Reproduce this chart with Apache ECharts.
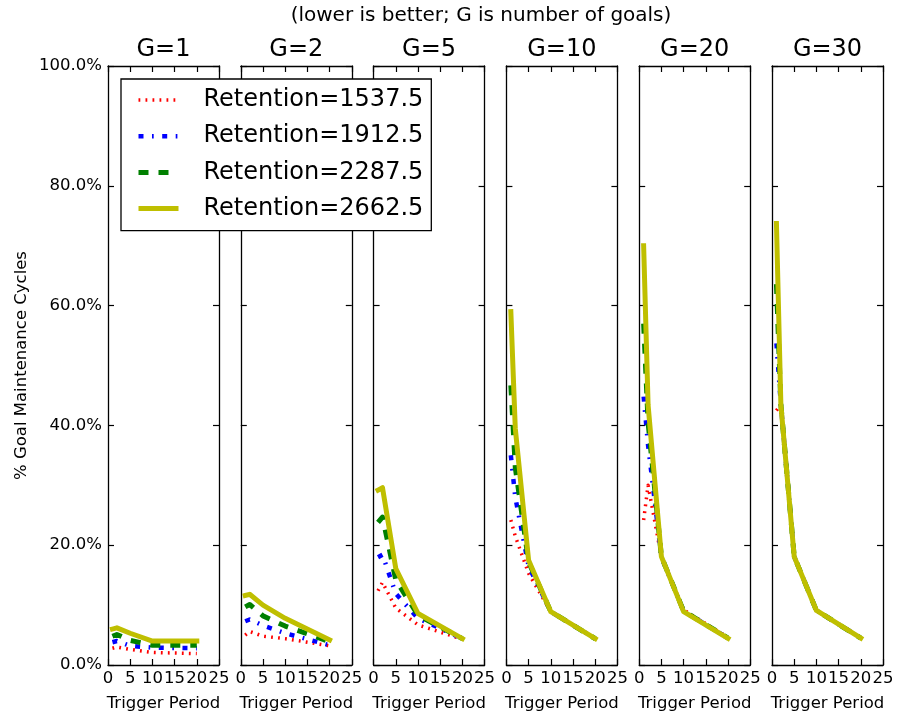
<!DOCTYPE html>
<html><head><meta charset="utf-8">
<script src="https://cdn.jsdelivr.net/npm/echarts@6/dist/echarts.min.js"></script>
<style>html,body{margin:0;padding:0;background:#fff}#c{width:898px;height:719px}</style>
</head><body><div id="c"></div>
<script>
// ---- data ----
const triggerPeriods = [1, 2, 5, 10, 20];
const goalCounts = ['G=1', 'G=2', 'G=5', 'G=10', 'G=20', 'G=30'];
const retentionLabels = ['Retention=1537.5', 'Retention=1912.5', 'Retention=2287.5', 'Retention=2662.5'];
// values in percent, one row per panel (G=1 ... G=30), one value per trigger period
const ret1537 = [
  [2.8, 3.0, 2.6, 2.1, 1.9],
  [5.0, 5.6, 4.8, 4.4, 3.2],
  [12.4, 13.8, 9.5, 6.7, 4.3],
  [24.2, 21.5, 15.3, 8.9, 4.4],
  [24.2, 30.0, 18.0, 9.2, 4.6],
  [42.5, 43.5, 18.1, 9.1, 4.5]
];
const ret1912 = [
  [3.8, 4.0, 3.2, 2.9, 2.8],
  [7.3, 7.6, 6.6, 5.3, 3.3],
  [18.0, 18.4, 11.9, 7.8, 4.4],
  [35.0, 28.0, 16.5, 8.9, 4.4],
  [44.8, 36.7, 18.0, 9.0, 4.5],
  [53.7, 43.5, 18.1, 9.1, 4.5]
];
const ret2287 = [
  [4.8, 5.1, 4.1, 3.3, 3.3],
  [9.7, 10.1, 8.2, 6.5, 3.9],
  [23.8, 24.7, 14.2, 8.3, 4.4],
  [46.7, 33.0, 17.2, 8.9, 4.4],
  [57.0, 40.5, 18.1, 9.0, 4.5],
  [63.6, 43.5, 18.1, 9.1, 4.5]
];
const ret2662 = [
  [6.0, 6.2, 5.3, 4.0, 4.0],
  [11.6, 11.8, 10.0, 7.8, 4.2],
  [29.2, 29.6, 16.1, 8.6, 4.4],
  [59.0, 39.5, 17.5, 8.9, 4.4],
  [70.0, 43.4, 18.1, 8.9, 4.45],
  [73.7, 43.4, 18.1, 9.1, 4.5]
];
const yTickLabels = ['0.0%', '20.0%', '40.0%', '60.0%', '80.0%', '100.0%'];
const xTickLabels = ['0', '5', '10', '15', '20', '25'];
const suptitleText = '(lower is better; G is number of goals)';
const xAxisName = 'Trigger Period';
const yAxisName = '% Goal Maintenance Cycles';

// ---- styling ----
const FONT = 'DejaVu Sans';
const retentionData = [ret1537, ret1912, ret2287, ret2662];
const lineStyles = [
  {color: '#ff0000', width: 3.5, type: [1.8, 5.2]},
  {color: '#0000ff', width: 4.5, type: [5, 8.5, 1.7, 8.5]},
  {color: '#008000', width: 5, type: [10, 10]},
  {color: '#bfbf00', width: 5, type: 'solid', cap: 'square'}
];
const GRID_TOP = 66, GRID_H = 599, GRID_W = 111;
const gridLeft = i => 108 + i * 132.8;

const grids = [], xAxes = [], yAxes = [], titles = [], series = [];
const axisLine = {show: true, onZero: false, lineStyle: {color: '#000', width: 1.3}};
const axisTick = {show: true, inside: true, length: 6, lineStyle: {color: '#000', width: 1.2}};

titles.push({
  text: suptitleText, left: 481, top: 5, textAlign: 'center', padding: 0,
  textStyle: {fontFamily: FONT, fontSize: 20, fontWeight: 'normal', color: '#000', lineHeight: 22}
});

goalCounts.forEach((g, i) => {
  const L = gridLeft(i);
  grids.push({left: L, top: GRID_TOP, width: GRID_W, height: GRID_H, containLabel: false});
  titles.push({
    text: g, left: L + GRID_W / 2, top: 37, textAlign: 'center', padding: 0,
    textStyle: {fontFamily: FONT, fontSize: 24, fontWeight: 'normal', color: '#000', lineHeight: 26}
  });
  xAxes.push({
    type: 'value', gridIndex: i, position: 'bottom', min: 0, max: 25, interval: 5,
    axisLine, axisTick, splitLine: {show: false},
    axisLabel: {show: true, margin: 5, color: '#000', fontFamily: FONT, fontSize: 16.5,
      formatter: v => xTickLabels[Math.round(v / 5)]},
    name: xAxisName, nameLocation: 'middle', nameGap: 30,
    nameTextStyle: {fontFamily: FONT, fontSize: 16.5, color: '#000'}
  });
  xAxes.push({
    type: 'value', gridIndex: i, position: 'top', min: 0, max: 25, interval: 5,
    axisLine, axisTick, splitLine: {show: false}, axisLabel: {show: false}
  });
  const yLeft = {
    type: 'value', gridIndex: i, position: 'left', min: 0, max: 100, interval: 20,
    axisLine, axisTick, splitLine: {show: false},
    axisLabel: {show: i === 0, margin: 6, color: '#000', fontFamily: FONT, fontSize: 16.5,
      formatter: v => yTickLabels[Math.round(v / 20)]}
  };
  if (i === 0) {
    yLeft.name = yAxisName;
    yLeft.nameLocation = 'middle';
    yLeft.nameGap = 78;
    yLeft.nameTextStyle = {fontFamily: FONT, fontSize: 16.5, color: '#000'};
  }
  yAxes.push(yLeft);
  yAxes.push({
    type: 'value', gridIndex: i, position: 'right', min: 0, max: 100, interval: 20,
    axisLine, axisTick, splitLine: {show: false}, axisLabel: {show: false}
  });
  retentionData.forEach((arr, r) => {
    series.push({
      type: 'line', name: retentionLabels[r],
      xAxisIndex: 2 * i, yAxisIndex: 2 * i,
      data: triggerPeriods.map((x, k) => [x, arr[i][k]]),
      symbol: 'none', showSymbol: false, smooth: false,
      lineStyle: Object.assign({join: 'round'}, lineStyles[r]),
      itemStyle: {color: lineStyles[r].color},
      emphasis: {disabled: true},
      z: 2 + r
    });
  });
});

const chart = echarts.init(document.getElementById('c'), null, {renderer: 'canvas'});
chart.setOption({
  animation: false,
  backgroundColor: '#fff',
  title: titles,
  grid: grids,
  xAxis: xAxes,
  yAxis: yAxes,
  legend: {
    data: retentionLabels,
    orient: 'vertical', left: 121, top: 79,
    padding: [7, 8, 8, 15], itemGap: 8.2, itemWidth: 40, itemHeight: 14,
    backgroundColor: '#fff', borderColor: '#000', borderWidth: 1.3, borderRadius: 0,
    selectedMode: false,
    itemStyle: {color: 'rgba(0,0,0,0)', borderWidth: 0, opacity: 0},
    lineStyle: {width: 'inherit', type: 'inherit', color: 'inherit', cap: 'butt'},
    textStyle: {fontFamily: FONT, fontSize: 24, color: '#000', lineHeight: 28, padding: [0, 0, 0, 20]},
    z: 10
  },
  series
});
</script></body></html>
